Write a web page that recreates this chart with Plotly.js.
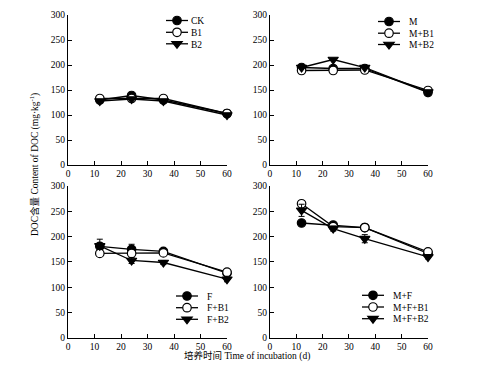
<!DOCTYPE html>
<html><head><meta charset="utf-8">
<script src="https://cdn.plot.ly/plotly-3.0.1.min.js"></script>
<style>body{margin:0;background:#fff}#chart{width:489px;height:366px}</style>
</head><body><div id="chart"></div>
<script>
const days = [12, 24, 36, 60];
// Panel 1
const CK = [130, 139, 130, 103];
const B1 = [133, 133, 133, 103];
const B2 = [128, 132, 128, 100];
// Panel 2
const M = [195, 193, 193, 145];
const MB1 = [189, 189, 190, 149];
const MB2 = [195, 211, 195, 146];
// Panel 3
const F = [181, 175, 171, 128];
const F_err = [14, 10, 4, 0];
const FB1 = [167, 167, 168, 130];
const FB2 = [182, 153, 149, 116];
const FB2_err = [0, 6, 4, 5];
// Panel 4
const MF = [227, 223, 218, 167];
const MFB1 = [265, 220, 218, 170];
const MFB1_err = [6, 0, 0, 0];
const MFB2 = [252, 216, 196, 160];
const MFB2_err = [12, 5, 8, 4];

const names = [["CK","B1","B2"],["M","M+B1","M+B2"],["F","F+B1","F+B2"],["M+F","M+F+B1","M+F+B2"]];
const xTicks = [0,10,20,30,40,50,60];
const yTicks = [0,50,100,150,200,250,300];

const FONT = "Liberation Serif, Times New Roman, Noto Sans CJK SC, serif";
const styles = [
  {symbol:'circle', color:'#000'},
  {symbol:'circle', color:'#fff'},
  {symbol:'triangle-down', color:'#000'}
];
const data = [
  [CK, B1, B2, [null,null,null]],
  [M, MB1, MB2, [null,null,null]],
  [F, FB1, FB2, [F_err,null,FB2_err]],
  [MF, MFB1, MFB2, [null,MFB1_err,MFB2_err]]
];
const traces = [];
data.forEach((d, p) => {
  const ax = p === 0 ? '' : String(p+1);
  for (let s = 0; s < 3; s++) {
    const err = d[3][s];
    const t = {
      x: days, y: d[s], type:'scatter', mode:'lines+markers',
      name: names[p][s],
      xaxis: 'x'+ax, yaxis: 'y'+ax,
      legend: p === 0 ? 'legend' : 'legend'+(p+1),
      line: {color:'#000', width:1.3},
      marker: {symbol: styles[s].symbol, size: s===2?9:8.5, color: styles[s].color, line:{color:'#000', width:1.2}},
      cliponaxis: false
    };
    if (err) t.error_y = {type:'data', array: err, visible:true, color:'#000', thickness:1, width:3};
    traces.push(t);
  }
});

function xa(domain, anchor){
  return {domain, anchor, range:[0,60], tickvals:xTicks, ticks:'inside', ticklen:4, tickcolor:'#000',
    showline:true, linecolor:'#000', linewidth:1, showgrid:false, zeroline:false,
    tickfont:{family:FONT, size:9.5, color:'#000'}, fixedrange:true};
}
function ya(domain, anchor){
  return {domain, anchor, range:[0,300], tickvals:yTicks, ticks:'inside', ticklen:4, tickcolor:'#000',
    showline:true, linecolor:'#000', linewidth:1, showgrid:false, zeroline:false,
    tickfont:{family:FONT, size:9.5, color:'#000'}, fixedrange:true};
}
function lg(x, y){
  return {x, y, xanchor:'left', yanchor:'top', bgcolor:'rgba(0,0,0,0)', borderwidth:0,
    font:{family:FONT, size:9.5, color:'#000'}, tracegroupgap:0, itemwidth:30, xref:'paper', yref:'paper'};
}
const xd1=[0,0.4417], xd2=[0.561,1], yTop=[0.5356,1], yBot=[0,0.4706];
const layout = {
  width:489, height:366,
  margin:{l:68, r:61, t:15, b:28, autoexpand:false},
  paper_bgcolor:'#fff', plot_bgcolor:'#fff',
  font:{family:FONT, color:'#000'},
  xaxis: xa(xd1,'y'), yaxis: ya(yTop,'x'),
  xaxis2: xa(xd2,'y2'), yaxis2: ya(yTop,'x2'),
  xaxis3: xa(xd1,'y3'), yaxis3: ya(yBot,'x3'),
  xaxis4: xa(xd2,'y4'), yaxis4: ya(yBot,'x4'),
  legend: lg(0.2464, 0.99),
  legend2: lg(0.836, 0.99),
  legend3: lg(0.274, 0.15),
  legend4: lg(0.791, 0.15),
  annotations:[
    {text:'DOC含量 Content of DOC (mg·kg<sup>-1</sup>)', xref:'paper', yref:'paper', x:-0.0944, y:0.5356,
     textangle:-90, showarrow:false, font:{family:FONT, size:9.5, color:'#000'}, xanchor:'center', yanchor:'middle'},
    {text:'培养时间 Time of incubation (d)', xref:'paper', yref:'paper', x:0.497, y:-0.0557,
     showarrow:false, font:{family:FONT, size:9.5, color:'#000'}, xanchor:'center', yanchor:'middle'}
  ],
  showlegend:true
};
// legend placement targets (pixel): left edge, row centres
const legendPos = {
  legend:  {L:157, rows:[20.5, 32.3, 43.8]},
  legend2: {L:369, rows:[21.5, 33.2, 44.5]},
  legend3: {L:167, rows:[296, 307.7, 319.3]},
  legend4: {L:353, rows:[295.3, 307, 318.7]}
};
Plotly.newPlot('chart', traces, layout, {displayModeBar:false, staticPlot:true}).then(() => {
  Object.keys(legendPos).forEach(k => {
    const g = document.querySelector('g.' + k);
    if (!g) return;
    const m = /translate\(\s*([-\d.]+)[ ,]+([-\d.]+)\s*\)/.exec(g.getAttribute('transform') || '');
    const ly = m ? parseFloat(m[2]) : 0;
    g.setAttribute('transform', 'translate(' + legendPos[k].L + ',' + ly + ')');
    g.querySelectorAll('[clip-path]').forEach(e => e.removeAttribute('clip-path'));
    const sb = g.querySelector('g.scrollbox');
    if (sb) sb.setAttribute('transform', 'translate(0,0)');
    g.querySelectorAll('g.traces').forEach((it, i) => {
      it.setAttribute('transform', 'translate(0,' + (legendPos[k].rows[i] - ly) + ')');
      it.querySelectorAll('g.legendlines path').forEach(p => p.setAttribute('d', 'M9,0h22'));
      const tx = it.querySelector('text.legendtext');
      if (tx) tx.setAttribute('x', 34);
    });
  });
});
</script></body></html>
